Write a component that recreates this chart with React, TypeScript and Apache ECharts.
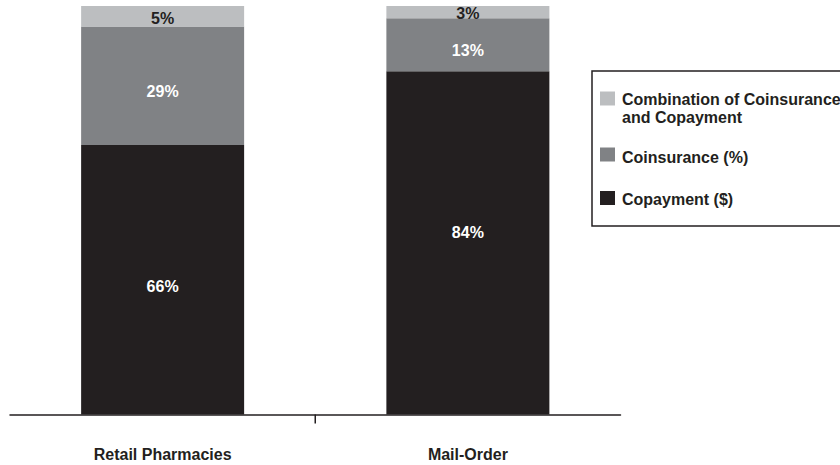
import React, { useEffect, useRef } from "react";
import * as echarts from "echarts";

const categories = ["Retail Pharmacies", "Mail-Order"];
const copayment = [66, 84];
const coinsurance = [29, 13];
const combination = [5, 3];
const seriesNames = ["Copayment ($)", "Coinsurance (%)", "Combination of Coinsurance\nand Copayment"];

const FONT = "'Liberation Sans', Arial, Helvetica, sans-serif";

export default function App() {
  const ref = useRef<HTMLDivElement>(null);

  useEffect(() => {
    if (!ref.current) return;
    const chart = echarts.init(ref.current, undefined, { renderer: "svg" });
    const values = [copayment, coinsurance, combination];
    const seriesColors = ["#231f20", "#808285", "#bcbec0"];
    const labelColors = ["#ffffff", "#ffffff", "#231f20"];
    // vertical nudges of the value labels, per series / category (style only)
    const labelNudge = [
      [7, -10],
      [6, 6],
      [2, 1],
    ];

    const legendItems = [
      { name: seriesNames[2], color: seriesColors[2], sqY: 91.5, textY: 90 },
      { name: seriesNames[1], color: seriesColors[1], sqY: 147.5, textY: 148 },
      { name: seriesNames[0], color: seriesColors[0], sqY: 191, textY: 190 },
    ];

    const legendGraphics: any[] = [
      {
        type: "rect",
        id: "legendBox",
        shape: { x: 592, y: 71, width: 300, height: 155 },
        style: { fill: "#ffffff", stroke: "#231f20", lineWidth: 1.5 },
        z: 10,
      },
    ];
    legendItems.forEach((it, i) => {
      legendGraphics.push({
        type: "rect",
        id: "sq" + i,
        shape: { x: 600, y: it.sqY, width: 15, height: 14 },
        style: { fill: it.color },
        z: 11,
      });
      legendGraphics.push({
        type: "text",
        id: "lt" + i,
        x: 622,
        y: it.textY,
        style: {
          text: it.name,
          fill: "#231f20",
          font: `bold 16px ${FONT}`,
          lineHeight: 18,
          verticalAlign: "top",
          align: "left",
        },
        z: 11,
      });
    });

    chart.setOption({
      animation: false,
      backgroundColor: "#ffffff",
      grid: { left: 10, right: 219.5, top: 6, bottom: 50.5, containLabel: false },
      xAxis: {
        type: "category",
        data: categories,
        axisLine: { show: true, lineStyle: { color: "#231f20", width: 1.5 } },
        axisTick: { show: false },
        axisLabel: {
          color: "#231f20",
          fontWeight: "bold",
          fontSize: 16,
          fontFamily: FONT,
          margin: 32,
        },
      },
      yAxis: {
        type: "value",
        min: 0,
        max: 100,
        show: false,
        splitLine: { show: false },
      },
      series: values.map((v, i) => ({
        name: seriesNames[i],
        type: "bar",
        stack: "total",
        data: v.map((val, j) => ({
          value: val,
          label: { offset: [0, labelNudge[i][j]] },
        })),
        barWidth: 163,
        itemStyle: { color: seriesColors[i] },
        label: {
          show: true,
          position: "inside",
          formatter: "{c}%",
          color: labelColors[i],
          fontWeight: "bold",
          fontSize: 16,
          fontFamily: FONT,
        },
      })),
      graphic: legendGraphics,
    });

    const p0 = chart.convertToPixel({ xAxisIndex: 0 }, categories[0]) as number;
    const p1 = chart.convertToPixel({ xAxisIndex: 0 }, categories[1]) as number;
    const y0 = chart.convertToPixel({ yAxisIndex: 0 }, 0) as number;
    const mid = (p0 + p1) / 2;
    chart.setOption({
      graphic: [
        ...legendGraphics,
        {
          type: "line",
          id: "centerTick",
          shape: { x1: mid, y1: y0, x2: mid, y2: y0 + 9 },
          style: { stroke: "#231f20", lineWidth: 1.5 },
        },
      ],
    });

    return () => chart.dispose();
  }, []);

  return (
    <div
      ref={ref}
      style={{ position: "absolute", left: 0, top: 0, width: 840, height: 465 }}
    />
  );
}
